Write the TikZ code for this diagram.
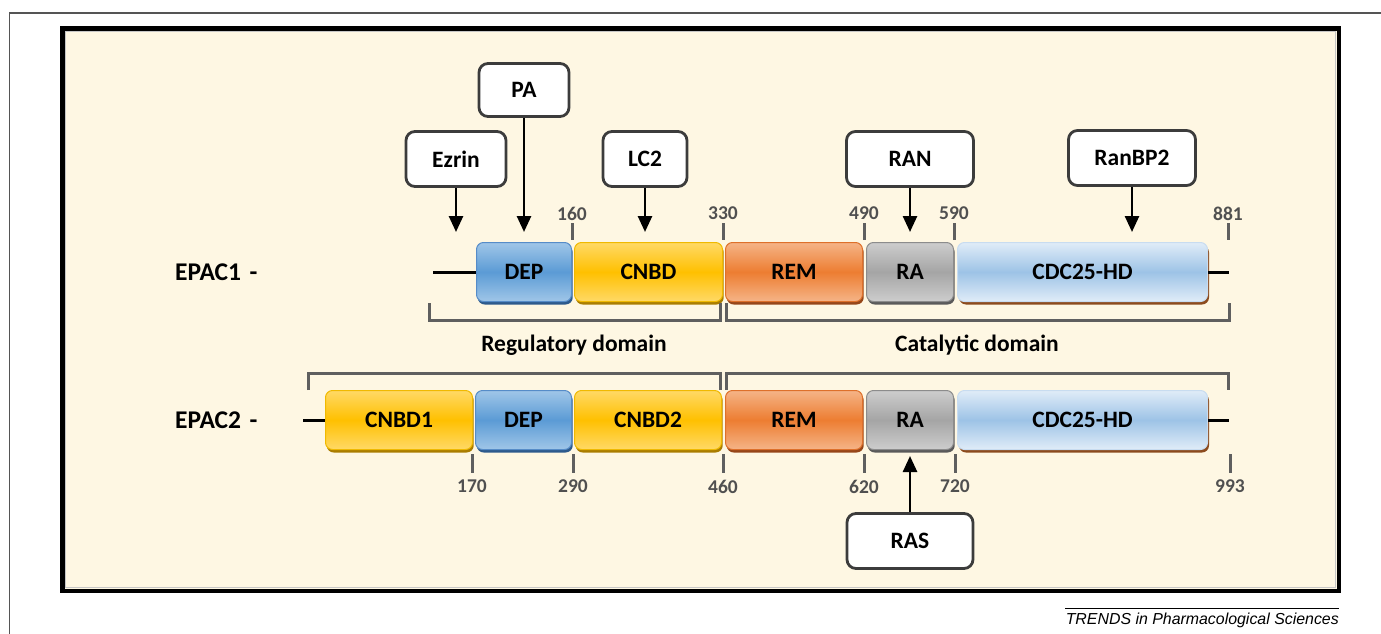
\documentclass[tikz,border=0pt]{standalone}
\usepackage{fontspec}
\setmainfont{Carlito}
\newfontfamily\capfont{Liberation Sans}
\usetikzlibrary{arrows.meta,shadows}

\definecolor{cream}{RGB}{254,247,227}
\definecolor{framegray}{RGB}{85,85,85}
\definecolor{boxline}{RGB}{60,60,60}
\definecolor{tickgray}{RGB}{95,95,95}
\definecolor{numgray}{RGB}{80,80,80}
\definecolor{depline}{RGB}{86,140,200}
\definecolor{deptop}{RGB}{160,198,232}
\definecolor{depmid}{RGB}{91,155,213}
\definecolor{depdark}{RGB}{45,90,140}
\definecolor{cnbdline}{RGB}{240,185,0}
\definecolor{cnbdtop}{RGB}{255,217,102}
\definecolor{cnbdmid}{RGB}{255,192,0}
\definecolor{cnbddark}{RGB}{170,125,0}
\definecolor{remline}{RGB}{222,112,42}
\definecolor{remtop}{RGB}{245,180,135}
\definecolor{remmid}{RGB}{237,125,49}
\definecolor{remdark}{RGB}{150,70,25}
\definecolor{raline}{RGB}{140,140,140}
\definecolor{ratop}{RGB}{205,205,205}
\definecolor{ramid}{RGB}{165,165,165}
\definecolor{radark}{RGB}{90,90,90}
\definecolor{cdcline}{RGB}{200,220,240}
\definecolor{cdctop}{RGB}{224,236,248}
\definecolor{cdcmid}{RGB}{157,195,230}
\definecolor{cdcdark}{RGB}{140,75,30}

\begin{document}
\begin{tikzpicture}[x=1pt,y=-1pt,
  dombox/.style={draw, rounded corners=7pt, inner sep=0pt, minimum height=59pt,
    line width=1pt, font=\fontsize{23.5}{28}\selectfont\bfseries},
  depbox/.style={dombox, draw=depline, top color=deptop, bottom color=deptop, middle color=depmid,
    drop shadow={shadow xshift=1.2pt, shadow yshift=-3pt, fill=depdark, opacity=1}},
  cnbdbox/.style={dombox, draw=cnbdline, top color=cnbdtop, bottom color=cnbdtop, middle color=cnbdmid,
    drop shadow={shadow xshift=1.2pt, shadow yshift=-3pt, fill=cnbddark, opacity=1}},
  rembox/.style={dombox, draw=remline, top color=remtop, bottom color=remtop, middle color=remmid,
    drop shadow={shadow xshift=1.2pt, shadow yshift=-3pt, fill=remdark, opacity=1}},
  rabox/.style={dombox, draw=raline, top color=ratop, bottom color=ratop, middle color=ramid,
    drop shadow={shadow xshift=1.2pt, shadow yshift=-3pt, fill=radark, opacity=1}},
  cdcbox/.style={dombox, draw=cdcline, top color=cdctop, bottom color=cdctop, middle color=cdcmid,
    drop shadow={shadow xshift=1.5pt, shadow yshift=-3pt, fill=cdcdark, opacity=1}},
  partner/.style={draw=boxline, line width=2.8pt, fill=white, rounded corners=9pt, inner sep=0pt,
    minimum height=55pt, font=\fontsize{23.5}{28}\selectfont\bfseries},
  arr/.style={-{Triangle[width=14pt,length=16pt]}, line width=2.6pt},
  backbone/.style={line width=3pt},
  tick/.style={draw=tickgray, line width=3pt},
  brk/.style={draw=tickgray, line width=3pt},
  num/.style={inner sep=0pt, text=numgray, font=\fontsize{19.5}{22}\selectfont\bfseries},
  lab/.style={inner sep=0pt, font=\fontsize{23.5}{28}\selectfont\bfseries},
  protlab/.style={inner sep=0pt, font=\fontsize{25.5}{30}\selectfont\bfseries}]

\useasboundingbox (0,0) rectangle (1381,634);

% frames
\draw[draw=framegray, line width=1.3pt] (9.5,634) -- (9.5,13) -- (1381,13);
\draw[line width=4.5pt, fill=cream] (62.3,28.3) rectangle (1338.8,590.8);
\draw[draw=gray!45, line width=0.7pt] (65.3,31.3) rectangle (1335.8,587.8);

% EPAC1
\node[protlab, anchor=west] (epac1) at (175,272) {EPAC1\,\,-};

\node[depbox, minimum width=95pt] (dep1) at (524,272) {DEP};
\node[cnbdbox, minimum width=148pt] (cnbd1) at (648.5,272) {CNBD};
\node[rembox, minimum width=137pt] (rem1) at (794,272) {REM};
\node[rabox, minimum width=87pt] (ra1) at (910,272) {RA};
\node[cdcbox, minimum width=250pt] (cdc1) at (1082.5,272) {CDC25-HD};

\coordinate (nterm1) at (433,272);
\coordinate (cterm1) at (1229,272);
\draw[backbone] (nterm1) -- (dep1);
\draw[backbone] (cdc1) -- (cterm1);

\draw[tick] (572,223) -- (572,240);
\draw[tick] (723,223) -- (723,240);
\draw[tick] (864,223) -- (864,240);
\draw[tick] (954,223) -- (954,240);
\draw[tick] (1228,223) -- (1228,240);
\node[num] (p160) at (572,213.5) {160};
\node[num] (p330) at (723,213.5) {330};
\node[num] (p490) at (864,213.5) {490};
\node[num] (p590) at (954,213.5) {590};
\node[num] (p881) at (1228,213.5) {881};

% partners EPAC1
\node[partner, minimum width=100pt] (ezrin) at (456,159) {Ezrin};
\node[partner, minimum width=90pt, minimum height=53pt] (pa) at (524,90) {PA};
\node[partner, minimum width=84pt] (lc2) at (645,159) {LC2};
\node[partner, minimum width=127pt] (ran) at (910,159) {RAN};
\node[partner, minimum width=127pt] (ranbp2) at (1132,158) {RanBP2};

\coordinate (ezrinT) at (456,232);
\coordinate (paT) at (524,232);
\coordinate (lc2T) at (645,232);
\coordinate (ranT) at (910,232);
\coordinate (ranbp2T) at (1132,232);
\draw[arr] (ezrin) -- (ezrinT);
\draw[arr] (pa) -- (paT);
\draw[arr] (lc2) -- (lc2T);
\draw[arr] (ran) -- (ranT);
\draw[arr] (ranbp2) -- (ranbp2T);

% domains
\draw[brk] (429,303) -- (429,320) -- (720,320) -- (720,303);
\draw[brk] (726,303) -- (726,320) -- (1229,320) -- (1229,303);
\node[lab, anchor=base] (reg) at (574,351) {Regulatory domain};
\node[lab, anchor=base] (cat) at (977,351) {Catalytic domain};
\draw[brk] (308,390) -- (308,373) -- (720,373) -- (720,390);
\draw[brk] (726,390) -- (726,373) -- (1228,373) -- (1228,390);

% EPAC2
\node[protlab, anchor=west] (epac2) at (175,420) {EPAC2\,\,-};

\node[cnbdbox, minimum width=147pt] (cnbd21) at (399,420) {CNBD1};
\node[depbox, minimum width=96pt] (dep2) at (523.5,420) {DEP};
\node[cnbdbox, minimum width=147pt] (cnbd22) at (648,420) {CNBD2};
\node[rembox, minimum width=137pt] (rem2) at (794,420) {REM};
\node[rabox, minimum width=87pt] (ra2) at (910,420) {RA};
\node[cdcbox, minimum width=250pt] (cdc2) at (1082.5,420) {CDC25-HD};

\coordinate (nterm2) at (303,420);
\coordinate (cterm2) at (1229,420);
\draw[backbone] (nterm2) -- (cnbd21);
\draw[backbone] (cdc2) -- (cterm2);

\draw[tick] (472,454) -- (472,473);
\draw[tick] (573,454) -- (573,473);
\draw[tick] (723,454) -- (723,473);
\draw[tick] (864,454) -- (864,473);
\draw[tick] (955,454) -- (955,473);
\draw[tick] (1230,454) -- (1230,473);
\node[num] (p170) at (472,486.5) {170};
\node[num] (p290) at (573,486.5) {290};
\node[num] (p460) at (723,486.5) {460};
\node[num] (p620) at (864,486.5) {620};
\node[num] (p720) at (955,486.5) {720};
\node[num] (p993) at (1230,486.5) {993};

% partner EPAC2
\node[partner, minimum width=126pt] (ras) at (910,541) {RAS};
\coordinate (rasT) at (910,456);
\draw[arr] (ras) -- (rasT);

% caption
\node[anchor=base east, inner sep=0pt, font=\capfont\itshape\fontsize{15.9}{18}\selectfont] (journal) at (1339,624) {TRENDS in Pharmacological Sciences};
\draw[line width=1pt] (1065,608) -- (1339,608);
\end{tikzpicture}
\end{document}
